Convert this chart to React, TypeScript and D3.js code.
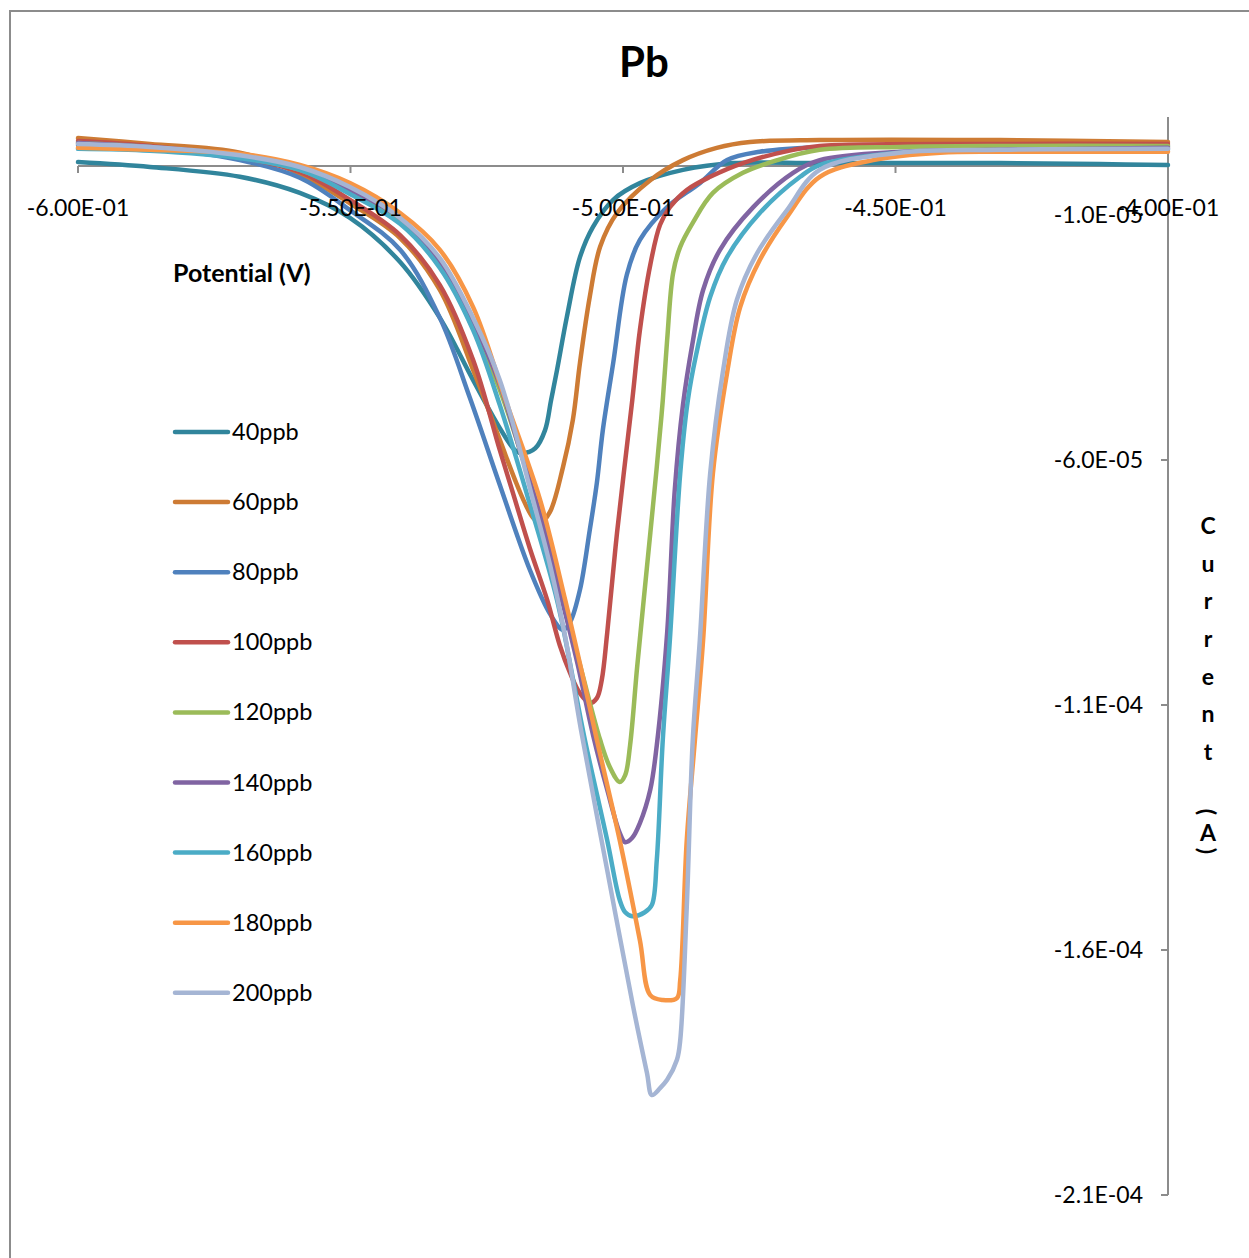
import React from 'react';
import * as d3 from 'd3';

// potential (V) vs current (µA) for each Pb concentration
const potentialTicks = [-0.6, -0.55, -0.5, -0.45, -0.4];
const currentTicks = [-10, -60, -110, -160, -210]; // µA

const seriesNames = ['40ppb', '60ppb', '80ppb', '100ppb', '120ppb', '140ppb', '160ppb', '180ppb', '200ppb'];
const seriesColors = ['#31859C', '#CD7B34', '#4F81BD', '#C0504D', '#9BBB59', '#8064A2', '#4BACC6', '#F79646', '#A5B5D4'];

const pb40 = [
  [-0.6, 0.8], [-0.5868, -0.2], [-0.5703, -2.2], [-0.5593, -5.5], [-0.5501, -10.6], [-0.5409, -19.6],
  [-0.5336, -31.0], [-0.5275, -43.7], [-0.5226, -53.5], [-0.5198, -58.0], [-0.5185, -58.6], [-0.5161, -57.6],
  [-0.5143, -53.9], [-0.5132, -47.8], [-0.5121, -41.6], [-0.5103, -30.8], [-0.5079, -18.6], [-0.5055, -12.4],
  [-0.5018, -6.9], [-0.4969, -3.5], [-0.489, -0.8], [-0.4798, 0.6], [-0.4639, 0.6], [-0.4308, 0.6],
  [-0.4125, 0.4], [-0.4, 0.2],
];
const pb60 = [
  [-0.6, 5.7], [-0.5868, 4.5], [-0.5703, 2.7], [-0.5593, -1.6], [-0.5501, -7.6], [-0.5409, -14.7],
  [-0.5336, -25.3], [-0.5275, -41.6], [-0.5226, -55.9], [-0.5198, -64.1], [-0.518, -68.8], [-0.5165, -71.8],
  [-0.5152, -72.9], [-0.5134, -70.6], [-0.511, -61.4], [-0.5092, -51.8], [-0.5079, -40.2], [-0.5061, -26.7],
  [-0.5042, -16.5], [-0.5011, -9.6], [-0.495, -2.9], [-0.489, 1.2], [-0.4828, 3.7], [-0.4767, 4.9],
  [-0.4639, 5.3], [-0.4308, 5.3], [-0.4, 4.9],
];
const pb80 = [
  [-0.6, 4.3], [-0.5868, 3.7], [-0.5703, 1.2], [-0.5593, -2.4], [-0.5501, -9.0], [-0.5409, -17.1],
  [-0.5336, -31.0], [-0.5281, -47.3], [-0.5226, -65.1], [-0.5171, -82.4], [-0.5134, -91.4], [-0.511, -94.7],
  [-0.5097, -93.1], [-0.5079, -86.5], [-0.5061, -74.3], [-0.5048, -64.7], [-0.5037, -53.9], [-0.5018, -40.2],
  [-0.4993, -22.2], [-0.4969, -15.1], [-0.4919, -8.4], [-0.4859, -3.5], [-0.4809, 1.2], [-0.4749, 2.9],
  [-0.4639, 3.9], [-0.4308, 4.1], [-0.4, 4.1],
];
const pb100 = [
  [-0.6, 5.1], [-0.5868, 4.1], [-0.5703, 1.8], [-0.5593, -1.2], [-0.5501, -6.9], [-0.5409, -14.1],
  [-0.5336, -24.3], [-0.5275, -39.6], [-0.5226, -58.0], [-0.5202, -66.7], [-0.5171, -78.0], [-0.5139, -88.6],
  [-0.5116, -97.8], [-0.5097, -103.5], [-0.5079, -107.6], [-0.5061, -109.6], [-0.5048, -108.6], [-0.5039, -104.9],
  [-0.5029, -95.3], [-0.5011, -74.9], [-0.4983, -47.8], [-0.4969, -33.5], [-0.495, -20.2], [-0.4932, -12.0],
  [-0.4914, -8.4], [-0.4883, -4.9], [-0.484, -2.2], [-0.478, 0.6], [-0.4688, 3.3], [-0.4639, 4.1],
  [-0.4308, 4.5], [-0.4, 4.5],
];
const pb120 = [
  [-0.6, 4.7], [-0.5868, 3.9], [-0.5703, 1.8], [-0.5593, -0.8], [-0.5501, -5.3], [-0.5409, -11.0],
  [-0.5336, -20.2], [-0.5275, -33.1], [-0.5226, -45.7], [-0.5189, -58.0], [-0.5152, -71.2], [-0.5116, -86.5],
  [-0.5079, -101.8], [-0.5042, -117.1], [-0.5024, -122.7], [-0.5006, -125.7], [-0.4996, -124.3], [-0.4987, -118.2],
  [-0.4974, -102.2], [-0.4956, -81.8], [-0.4938, -61.4], [-0.4927, -47.8], [-0.4919, -35.5], [-0.4908, -21.8],
  [-0.4895, -16.5], [-0.4872, -11.6], [-0.4835, -5.5], [-0.478, -1.4], [-0.4717, 1.2], [-0.4639, 3.3],
  [-0.4492, 3.9], [-0.4308, 4.1], [-0.4, 4.1],
];
const pb140 = [
  [-0.6, 4.7], [-0.5868, 3.9], [-0.5703, 2.0], [-0.5593, -0.6], [-0.5501, -4.9], [-0.5409, -10.6],
  [-0.5336, -19.6], [-0.5275, -31.8], [-0.5226, -44.7], [-0.5189, -58.0], [-0.5152, -71.2], [-0.5112, -88.6],
  [-0.5083, -101.8], [-0.5055, -116.1], [-0.5029, -127.3], [-0.5006, -136.1], [-0.4996, -138.0], [-0.4983, -137.1],
  [-0.4969, -134.1], [-0.495, -127.3], [-0.4938, -118.2], [-0.4919, -95.3], [-0.4905, -66.1], [-0.489, -48.8],
  [-0.4873, -36.5], [-0.4853, -25.3], [-0.4822, -17.1], [-0.4761, -8.4], [-0.4688, -1.4], [-0.4639, 1.2],
  [-0.4492, 2.9], [-0.4308, 3.3], [-0.4, 3.7],
];
const pb160 = [
  [-0.6, 3.5], [-0.5868, 3.1], [-0.5703, 1.6], [-0.5593, -0.8], [-0.5501, -5.7], [-0.5409, -11.8],
  [-0.5336, -20.8], [-0.5275, -33.5], [-0.5226, -48.8], [-0.5176, -67.1], [-0.5121, -88.6], [-0.5088, -106.9],
  [-0.507, -117.1], [-0.5029, -137.6], [-0.5006, -149.8], [-0.4996, -152.3], [-0.4983, -153.1], [-0.496, -152.3],
  [-0.4947, -150.8], [-0.4938, -141.6], [-0.4927, -117.1], [-0.4914, -96.7], [-0.4895, -62.7], [-0.4881, -47.8],
  [-0.4866, -38.6], [-0.484, -26.7], [-0.4809, -18.6], [-0.4749, -9.6], [-0.4675, -2.2], [-0.4639, 0.2],
  [-0.4492, 2.7], [-0.4308, 3.1], [-0.4, 3.3],
];
const pb180 = [
  [-0.6, 3.7], [-0.5868, 3.3], [-0.5703, 2.5], [-0.5593, 0.2], [-0.5501, -3.5], [-0.5409, -9.6],
  [-0.5336, -17.1], [-0.5275, -28.8], [-0.5217, -47.3], [-0.5152, -68.2], [-0.5106, -88.6], [-0.5064, -109.0],
  [-0.5048, -117.1], [-0.5006, -137.6], [-0.4969, -158.0], [-0.495, -169.2], [-0.4927, -170.2], [-0.4901, -169.8],
  [-0.4895, -166.1], [-0.4883, -137.6], [-0.4868, -117.1], [-0.4853, -96.7], [-0.4835, -62.7], [-0.4809, -42.2],
  [-0.4785, -28.8], [-0.4749, -19.2], [-0.4699, -10.4], [-0.4639, -2.2], [-0.4541, 1.2], [-0.4418, 2.7],
  [-0.4308, 2.9], [-0.4, 2.9],
];
const pb200 = [
  [-0.6, 4.5], [-0.5868, 3.9], [-0.5703, 2.2], [-0.5593, -0.2], [-0.5501, -4.3], [-0.5409, -10.6],
  [-0.5336, -18.8], [-0.5275, -31.0], [-0.5226, -43.7], [-0.5165, -68.2], [-0.5134, -81.4], [-0.5105, -96.7],
  [-0.5077, -115.1], [-0.5029, -143.7], [-0.4982, -171.2], [-0.4956, -185.1], [-0.4947, -189.6], [-0.4932, -188.2],
  [-0.4919, -186.5], [-0.4901, -182.4], [-0.4895, -178.4], [-0.4883, -151.2], [-0.4872, -117.1], [-0.4859, -96.7],
  [-0.484, -62.7], [-0.4817, -42.2], [-0.4791, -27.3], [-0.4754, -17.8], [-0.4699, -9.0], [-0.4639, -0.8],
  [-0.4492, 2.7], [-0.4308, 3.3], [-0.4, 3.5],
];

const seriesData = [pb40, pb60, pb80, pb100, pb120, pb140, pb160, pb180, pb200];

const W = 1249;
const H = 1258;
const plot = { left: 78, right: 1168, top: 117, bottom: 1195 };
const font = "Lato, 'Open Sans', sans-serif";
const axisColor = '#8C8C8C';

// Excel style scientific labels, e.g. -5.00E-01
const sci = (v: number, digits: number) => {
  const [m, e] = v.toExponential(digits).split('e');
  const n = Number(e);
  return `${m}E${n < 0 ? '-' : '+'}${String(Math.abs(n)).padStart(2, '0')}`;
};

// stacked vertical title "Current (A)"
const yTitle = [
  { ch: 'C', y: 525, rot: 0 }, { ch: 'u', y: 563, rot: 0 }, { ch: 'r', y: 600, rot: 0 },
  { ch: 'r', y: 638, rot: 0 }, { ch: 'e', y: 676, rot: 0 }, { ch: 'n', y: 713, rot: 0 },
  { ch: 't', y: 751, rot: 0 }, { ch: '(', y: 812, rot: 90 }, { ch: 'A', y: 832, rot: 0 },
  { ch: ')', y: 851, rot: 90 },
];

export default function App() {
  const x = d3.scaleLinear().domain([-0.6, -0.4]).range([plot.left, plot.right]);
  const y = d3.scaleLinear().domain([-210, 10]).range([plot.bottom, plot.top]);
  const line = d3.line<number[]>()
    .x(d => x(d[0]))
    .y(d => y(d[1]))
    .curve(d3.curveCatmullRom.alpha(0.5));
  const y0 = y(0);

  return (
    <svg width={W} height={H} fontFamily={font}
      style={{ position: 'absolute', left: 0, top: 0, background: '#fff', fontVariantLigatures: 'none' }}>
      <rect x={10} y={11} width={W + 20} height={H + 20} fill="#fff" stroke={axisColor} strokeWidth={2} />

      <text x={644} y={77} textAnchor="middle" fontSize={42} fontWeight="bold">Pb</text>

      {/* axes */}
      <line x1={plot.left} x2={plot.right} y1={y0} y2={y0} stroke={axisColor} strokeWidth={2} />
      {potentialTicks.map(t => (
        <line key={'xt' + t} x1={x(t)} x2={x(t)} y1={y0} y2={y0 + 7} stroke={axisColor} strokeWidth={2} />
      ))}
      <line x1={plot.right} x2={plot.right} y1={plot.top} y2={plot.bottom} stroke={axisColor} strokeWidth={2} />
      {currentTicks.map(t => (
        <line key={'yt' + t} x1={plot.right - 7} x2={plot.right} y1={y(t)} y2={y(t)} stroke={axisColor} strokeWidth={2} />
      ))}

      {/* series */}
      {seriesData.map((s, i) => (
        <path key={seriesNames[i]} d={line(s) || ''} fill="none" stroke={seriesColors[i]}
          strokeWidth={4.5} strokeLinejoin="round" strokeLinecap="round" />
      ))}

      {/* tick labels */}
      {potentialTicks.map(t => (
        <text key={'xl' + t} x={x(t)} y={216} textAnchor="middle" fontSize={23}>{sci(t, 2)}</text>
      ))}
      {currentTicks.map(t => (
        <text key={'yl' + t} x={1143} y={y(t) + 8} textAnchor="end" fontSize={23}>{sci(t * 1e-6, 1)}</text>
      ))}

      {/* axis titles */}
      <text x={173} y={282} fontSize={25} fontWeight="bold">Potential (V)</text>
      {yTitle.map((c, i) => (
        <text key={i} x={1208} y={c.y} textAnchor="middle" dominantBaseline="central" fontSize={23}
          fontWeight="bold" transform={c.rot ? `rotate(${c.rot},1208,${c.y})` : undefined}>{c.ch}</text>
      ))}

      {/* legend */}
      {seriesNames.map((name, i) => {
        const ly = 432 + i * 70.1;
        return (
          <g key={'lg' + name}>
            <line x1={175} x2={228} y1={ly} y2={ly} stroke={seriesColors[i]} strokeWidth={4.5} strokeLinecap="round" />
            <text x={232} y={ly + 8} fontSize={23.5}>{name}</text>
          </g>
        );
      })}
    </svg>
  );
}
